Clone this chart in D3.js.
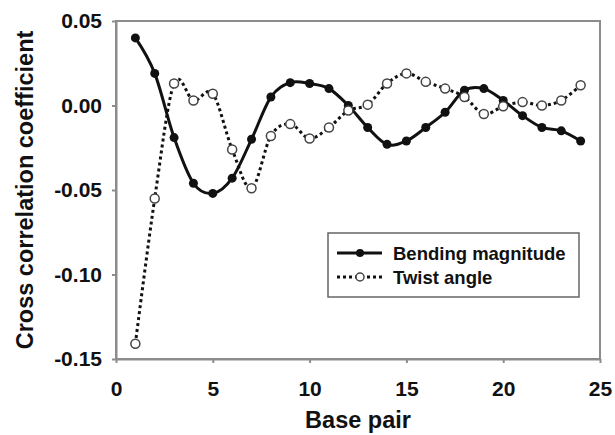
<!DOCTYPE html>
<html lang="en">
<head>
    <meta charset="UTF-8">
    <title>Cross correlation</title>
    <script src="https://d3js.org/d3.v7.min.js"></script>
    <style type="text/css">
        body { margin: 0; background: #fff; }
        /* everything in bold Arial like the excel original */
        text { font-family: "Liberation Sans", Arial, sans-serif; font-weight: bold; fill: #111; }
    </style>
</head>
<body>
<div id="chart"></div>
<script>
// data
var basePair = [1, 2, 3, 4, 5, 6, 7, 8, 9, 10, 11, 12, 13, 14, 15, 16, 17, 18, 19, 20, 21, 22, 23, 24];
var bending = [0.040, 0.019, -0.019, -0.046, -0.052, -0.043, -0.020, 0.005, 0.0135, 0.013, 0.010, 0.000,
               -0.013, -0.023, -0.021, -0.013, -0.004, 0.009, 0.010, 0.003, -0.006, -0.013, -0.015, -0.021];
var twist = [-0.141, -0.055, 0.013, 0.003, 0.007, -0.026, -0.049, -0.018, -0.011, -0.0195, -0.013, -0.003,
             0.0005, 0.013, 0.019, 0.014, 0.010, 0.005, -0.005, -0.0005, 0.002, 0.000, 0.003, 0.012];
var xTicks = [0, 5, 10, 15, 20, 25];
var yTicks = [0.05, 0.00, -0.05, -0.10, -0.15];
var seriesNames = ["Bending magnitude", "Twist angle"];

var width = 615, height = 435;
var margin = {top: 21, right: 15, bottom: 76, left: 116};

var svg = d3.select("#chart").append("svg")
    .attr("width", width)
    .attr("height", height);

var x = d3.scaleLinear().domain([0, 25]).range([margin.left, width - margin.right]);
var y = d3.scaleLinear().domain([-0.15, 0.05]).range([height - margin.bottom, margin.top]);

var axisColor = "#8c8c8c";

// plot frame (top and right)
svg.append("rect")
    .attr("x", x(0)).attr("y", y(0.05))
    .attr("width", x(25) - x(0)).attr("height", y(-0.15) - y(0.05))
    .attr("fill", "none").attr("stroke", axisColor).attr("stroke-width", 2);

// plain hyphen for negatives, like excel
var fmt = function(d) { return d3.format(".2f")(d).replace("\u2212", "-"); };

// axes
var xAxis = svg.append("g")
    .attr("transform", "translate(0," + y(-0.15) + ")")
    .call(d3.axisBottom(x).tickValues(xTicks).tickSize(4).tickPadding(18).tickSizeOuter(0));
var yAxis = svg.append("g")
    .attr("transform", "translate(" + x(0) + ",0)")
    .call(d3.axisLeft(y).tickValues(yTicks).tickFormat(fmt).tickSize(4).tickPadding(10).tickSizeOuter(0));

[xAxis, yAxis].forEach(function(g) {
    g.select(".domain").attr("stroke", axisColor).attr("stroke-width", 2);
    g.selectAll(".tick line").attr("stroke", axisColor).attr("stroke-width", 2);
    g.selectAll(".tick text").attr("fill", "#111").style("font-size", "21px");
});

// axis titles
svg.append("text")
    .attr("x", (x(0) + x(25)) / 2).attr("y", 428)
    .attr("text-anchor", "middle")
    .style("font-size", "23.5px")
    .text("Base pair");

svg.append("text")
    .attr("transform", "translate(33," + (y(0.05) + y(-0.15)) / 2 + ") rotate(-90)")
    .attr("text-anchor", "middle")
    .style("font-size", "23.5px")
    .text("Cross correlation coefficient");

// lines
var line = d3.line()
    .x(function(d, i) { return x(basePair[i]); })
    .y(function(d) { return y(d); })
    .curve(d3.curveCatmullRom.alpha(0));

svg.append("path")
    .datum(bending)
    .attr("d", line)
    .attr("fill", "none").attr("stroke", "#111").attr("stroke-width", 3);

svg.selectAll(".bendDot")
    .data(bending)
    .enter().append("circle")
    .attr("class", "bendDot")
    .attr("cx", function(d, i) { return x(basePair[i]); })
    .attr("cy", function(d) { return y(d); })
    .attr("r", 4.5)
    .attr("fill", "#111");

svg.append("path")
    .datum(twist)
    .attr("d", line)
    .attr("fill", "none").attr("stroke", "#111").attr("stroke-width", 3)
    .attr("stroke-dasharray", "3,3");

svg.selectAll(".twistDot")
    .data(twist)
    .enter().append("circle")
    .attr("class", "twistDot")
    .attr("cx", function(d, i) { return x(basePair[i]); })
    .attr("cy", function(d) { return y(d); })
    .attr("r", 4.5)
    .attr("fill", "#fff").attr("stroke", "#444").attr("stroke-width", 1.5);

// legend
var legend = svg.append("g").attr("transform", "translate(328,233)");
legend.append("rect")
    .attr("width", 251).attr("height", 64)
    .attr("fill", "#fff").attr("stroke", "#666").attr("stroke-width", 1.5);

var rows = legend.selectAll(".row")
    .data(seriesNames)
    .enter().append("g")
    .attr("transform", function(d, i) { return "translate(0," + (20 + i * 24) + ")"; });

rows.append("line")
    .attr("x1", 9).attr("x2", 54)
    .attr("stroke", "#111").attr("stroke-width", 3)
    .attr("stroke-dasharray", function(d, i) { return i == 0 ? null : "3,3"; });

rows.append("circle")
    .attr("cx", 32).attr("r", 4)
    .attr("fill", function(d, i) { return i == 0 ? "#111" : "#fff"; })
    .attr("stroke", function(d, i) { return i == 0 ? "none" : "#444"; })
    .attr("stroke-width", 1.5);

rows.append("text")
    .attr("x", 65).attr("y", 6.5)
    .style("font-size", "18.5px")
    .text(function(d) { return d; });
</script>
</body>
</html>
